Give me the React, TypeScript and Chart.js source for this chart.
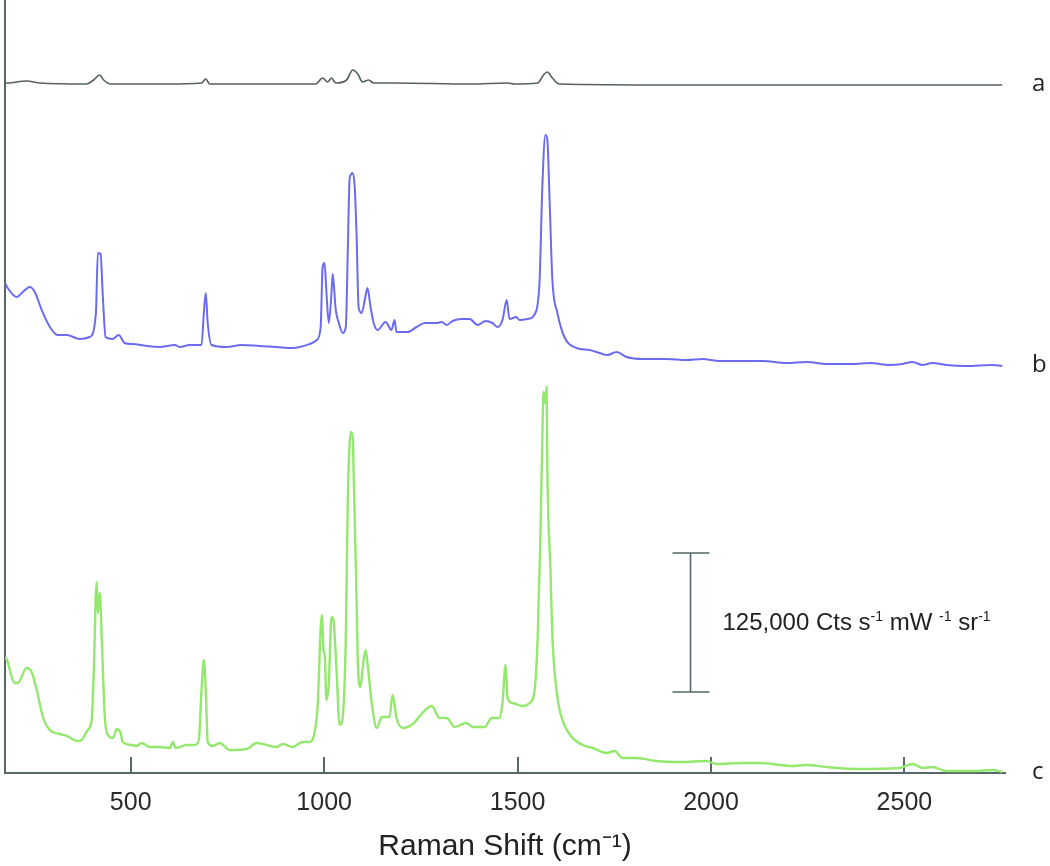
import React, { useEffect, useRef } from 'react';
import { Chart, registerables } from 'chart.js';

Chart.register(...registerables);

// ---- axis ranges & ticks ----
const X_MIN = 175;
const X_MAX = 2760;
const Y_MIN = 0;
const Y_MAX = 773;
const TICK_VALUES = [500, 1000, 1500, 2000, 2500];
const X_TITLE = 'Raman Shift (cm\u207B\u00B9)';

// ---- traces: [Raman shift (cm-1), intensity (a.u., above trace baseline)] ----
const SPECTRUM_A: [number, number][] = [
  [175, 2], [180, 2], [231, 4], [265, 2], [386, 1], [404, 5], [420, 10], [430, 5], [448, 1],
  [596, 1], [683, 2], [694, 6], [704, 1], [978, 1], [996, 7], [1009, 3], [1019, 7], [1030, 2],
  [1058, 5], [1074, 15], [1087, 11], [1099, 3], [1115, 5], [1128, 2], [1180, 2], [1379, 1],
  [1474, 2], [1492, 1], [1552, 2], [1567, 10], [1577, 13], [1590, 7], [1608, 1], [1901, 0], [2753, 0],
];

const SPECTRUM_B: [number, number][] = [
  [175, 83], [182, 78], [205, 69], [221, 74], [239, 79], [252, 74], [270, 56], [291, 39], [311, 31],
  [335, 31], [368, 27], [394, 29], [410, 53], [415, 113], [422, 112], [428, 69], [435, 29], [453, 27],
  [469, 31], [484, 23], [505, 22], [541, 20], [575, 19], [614, 21], [627, 19], [652, 21], [683, 21],
  [689, 53], [694, 73], [699, 43], [709, 21], [748, 19], [787, 21], [833, 20], [877, 19], [919, 18],
  [963, 22], [981, 26], [991, 39], [996, 99], [1001, 103], [1006, 73], [1012, 43], [1019, 73],
  [1022, 92], [1030, 56], [1038, 43], [1048, 33], [1056, 39], [1061, 113], [1066, 188], [1074, 193],
  [1079, 179], [1084, 129], [1089, 59], [1097, 53], [1105, 66], [1112, 78], [1120, 59], [1128, 43],
  [1138, 36], [1159, 44], [1174, 36], [1182, 46], [1187, 34], [1216, 34], [1239, 39], [1260, 43],
  [1291, 43], [1304, 44], [1317, 41], [1332, 45], [1355, 47], [1376, 47], [1397, 41], [1417, 45],
  [1435, 43], [1448, 39], [1461, 46], [1472, 66], [1479, 47], [1497, 49], [1505, 46], [1526, 47],
  [1546, 53], [1557, 86], [1564, 179], [1572, 231], [1577, 226], [1583, 163], [1590, 86], [1603, 53],
  [1621, 29], [1652, 18], [1686, 16], [1712, 13], [1732, 11], [1756, 14], [1782, 9], [1823, 7],
  [1885, 7], [1937, 6], [1978, 7], [2022, 5], [2081, 5], [2133, 5], [2195, 3], [2249, 4], [2298, 2],
  [2366, 2], [2410, 3], [2462, 1], [2495, 2], [2521, 4], [2547, 1], [2572, 3], [2608, 1], [2660, 0],
  [2727, 1], [2753, 0],
];

const SPECTRUM_C: [number, number][] = [
  [175, 116], [180, 113], [200, 90], [208, 90], [231, 105], [244, 101], [257, 83], [273, 56], [291, 43],
  [317, 39], [335, 37], [363, 32], [373, 33], [389, 43], [399, 53], [404, 96], [412, 191], [415, 160],
  [420, 180], [425, 136], [433, 56], [441, 38], [454, 35], [464, 44], [474, 40], [479, 31], [503, 28],
  [515, 27], [528, 30], [549, 26], [575, 26], [601, 25], [609, 31], [616, 25], [645, 28], [665, 28],
  [676, 33], [683, 83], [689, 113], [694, 83], [699, 31], [712, 27], [730, 30], [756, 23], [800, 24],
  [826, 30], [851, 28], [877, 26], [893, 29], [919, 26], [944, 31], [963, 31], [975, 40], [983, 66],
  [994, 158], [999, 121], [1001, 120], [1006, 73], [1012, 90], [1019, 156], [1024, 153], [1032, 103],
  [1040, 48], [1048, 56], [1056, 136], [1061, 270], [1069, 341], [1074, 336], [1076, 303], [1084, 170],
  [1087, 110], [1094, 86], [1099, 103], [1107, 123], [1112, 110], [1123, 70], [1136, 45], [1149, 56],
  [1161, 56], [1169, 56], [1177, 78], [1187, 55], [1203, 45], [1229, 49], [1254, 60], [1278, 67],
  [1298, 55], [1317, 55], [1337, 46], [1368, 50], [1384, 46], [1415, 46], [1433, 55], [1453, 55],
  [1461, 70], [1469, 108], [1474, 75], [1487, 70], [1513, 67], [1531, 70], [1544, 83], [1552, 136],
  [1559, 236], [1564, 336], [1567, 381], [1572, 370], [1575, 386], [1577, 303], [1585, 203],
  [1590, 136], [1603, 76], [1616, 53], [1640, 36], [1668, 28], [1694, 25], [1730, 20], [1751, 22],
  [1771, 15], [1808, 15], [1859, 12], [1926, 11], [1988, 12], [2014, 9], [2081, 10], [2125, 10],
  [2211, 7], [2247, 8], [2298, 6], [2384, 4], [2487, 5], [2521, 9], [2547, 5], [2572, 6], [2608, 2],
  [2686, 2], [2727, 3], [2753, 1],
];

const TRACE_NAMES = ['a', 'b', 'c'];
const TRACE_OFFSETS = [688, 407, 0];
const TRACE_COLORS = ['#56625f', '#6b6bf0', '#93e86d'];
const TRACE_WIDTHS = [1.7, 2, 2.4];

// ---- scale bar (intensity reference) ----
const SCALE_BAR_SHIFT = 1946;
const SCALE_BAR_FROM = 81;
const SCALE_BAR_TO = 220;
const SCALE_LABEL_PARTS: [string, boolean][] = [
  ['125,000 Cts s', false],
  ['-1', true],
  [' mW ', false],
  ['-1', true],
  [' sr', false],
  ['-1', true],
];

const FONT = "'Liberation Sans', Arial, Helvetica, sans-serif";
const AXIS_COLOR = '#56676a';

const annotationPlugin = {
  id: 'ramanAnnotations',
  afterDraw(chart: any) {
    const { ctx, chartArea, scales } = chart;
    const x = scales.x;
    const y = scales.y;
    ctx.save();

    // scale bar
    const bx = Math.round(x.getPixelForValue(SCALE_BAR_SHIFT)) + 0.5;
    const yTop = y.getPixelForValue(SCALE_BAR_TO);
    const yBot = y.getPixelForValue(SCALE_BAR_FROM);
    ctx.strokeStyle = AXIS_COLOR;
    ctx.lineWidth = 1.6;
    ctx.beginPath();
    ctx.moveTo(bx, yTop);
    ctx.lineTo(bx, yBot);
    ctx.moveTo(bx - 18, yTop);
    ctx.lineTo(bx + 19, yTop);
    ctx.moveTo(bx - 18, yBot);
    ctx.lineTo(bx + 19, yBot);
    ctx.stroke();

    // scale label with superscripts
    let cx = bx + 32;
    const baseline = (yTop + yBot) / 2 + 7;
    ctx.fillStyle = '#222';
    ctx.textBaseline = 'alphabetic';
    ctx.textAlign = 'left';
    for (const [text, sup] of SCALE_LABEL_PARTS) {
      ctx.font = sup ? `14px ${FONT}` : `24px ${FONT}`;
      ctx.fillText(text, cx, sup ? baseline - 9 : baseline);
      cx += ctx.measureText(text).width;
    }

    // trace labels a, b, c
    ctx.font = `24px 'Open Sans', Lato, sans-serif`;
    ctx.fillStyle = '#222';
    TRACE_NAMES.forEach((name, i) => {
      const py = y.getPixelForValue(TRACE_OFFSETS[i]);
      ctx.fillText(name, chartArea.right + 27, py + 6);
    });
    ctx.restore();
  },
};

export default function App() {
  const canvasRef = useRef<HTMLCanvasElement | null>(null);

  useEffect(() => {
    const spectra = [SPECTRUM_A, SPECTRUM_B, SPECTRUM_C];
    const datasets = spectra.map((spec, i) => ({
      label: TRACE_NAMES[i],
      data: spec.map(([s, v]) => ({ x: s, y: v + TRACE_OFFSETS[i] })),
      borderColor: TRACE_COLORS[i],
      borderWidth: TRACE_WIDTHS[i],
      pointRadius: 0,
      fill: false,
      cubicInterpolationMode: 'monotone' as const,
    }));

    const chart = new Chart(canvasRef.current as HTMLCanvasElement, {
      type: 'line',
      data: { datasets },
      options: {
        responsive: false,
        maintainAspectRatio: false,
        devicePixelRatio: 1,
        animation: false,
        layout: { padding: { left: 5, right: 45, top: 0, bottom: 0 } },
        plugins: {
          legend: { display: false },
          tooltip: { enabled: false },
        },
        scales: {
          x: {
            type: 'linear',
            position: 'bottom',
            min: X_MIN,
            max: X_MAX,
            afterBuildTicks: (s: any) => {
              s.ticks = TICK_VALUES.map((v) => ({ value: v }));
            },
            afterFit: (s: any) => {
              s.height = 93;
            },
            ticks: {
              color: '#2a2a2a',
              font: { family: FONT, size: 25 },
              padding: 31,
              autoSkip: false,
              maxRotation: 0,
              callback: (v: any) => String(v),
            },
            grid: {
              display: true,
              drawOnChartArea: false,
              drawTicks: true,
              tickLength: -16,
              color: AXIS_COLOR,
              lineWidth: 2,
            },
            border: { display: true, color: AXIS_COLOR, width: 2 },
            title: {
              display: true,
              text: X_TITLE,
              color: '#222',
              font: { family: FONT, size: 30 },
              padding: { top: 0, bottom: 1 },
            },
          },
          y: {
            type: 'linear',
            min: Y_MIN,
            max: Y_MAX,
            afterFit: (s: any) => {
              s.width = 0;
            },
            ticks: { display: false },
            grid: { display: false },
            border: { display: true, color: AXIS_COLOR, width: 2 },
          },
        },
      },
      plugins: [annotationPlugin],
    });
    return () => chart.destroy();
  }, []);

  return (
    <div style={{ position: 'fixed', left: 0, top: 0, width: 1050, height: 866, background: '#fff' }}>
      <canvas ref={canvasRef} width={1050} height={866} style={{ display: 'block', width: 1050, height: 866 }} />
    </div>
  );
}
